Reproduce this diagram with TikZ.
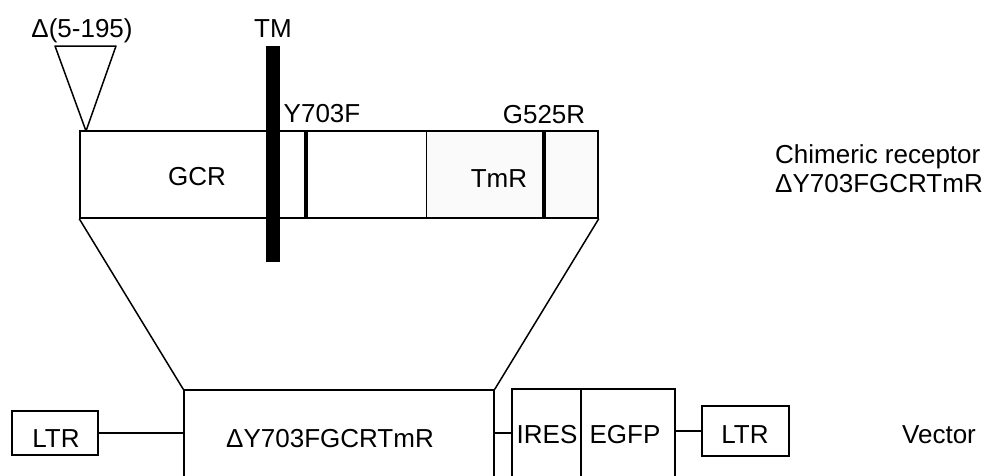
\documentclass[tikz,border=0pt]{standalone}
\usepackage{fontspec}
\setmainfont{Liberation Sans}

\begin{document}
\begin{tikzpicture}[x=1pt,y=-1pt,
    box/.style={draw, line width=1.5pt, inner sep=0pt},
    mut/.style={line width=3.5pt},
    lbl/.style={font=\fontsize{26}{30}\selectfont, inner sep=0pt, anchor=base}]
  \clip (0,0) rectangle (992,475);
  % Coordinates
  \coordinate (DL) at (55,46);
  \coordinate (DR) at (116,46);
  \coordinate (DT) at (86,131);
  \coordinate (Y) at (306,174);
  \coordinate (G) at (544,174);
  \coordinate (T) at (426,174);

  % Receptor
  \fill[gray!4] (426,131) rectangle (598,218);
  \node[box, minimum width=518pt, minimum height=87pt] (rec) at (339,174.5) {};
  \draw[line width=1pt] (T |- rec.north) -- (T |- rec.south);
  \draw[mut] (Y |- rec.north) -- (Y |- rec.south);
  \draw[line width=4.5pt] (G |- rec.north) -- (G |- rec.south);
  \node[fill, minimum width=14pt, minimum height=216pt, inner sep=0pt] (tm) at (273,154) {};
  \draw[line width=1.5pt, line join=round] (DL) -- (DR) -- (DT) -- cycle;
  \node[lbl] at (82,37) {Δ(5-195)};
  \node[lbl] at (273,37) {TM};
  \node[lbl] at (322,122) {Y703F};
  \node[lbl] at (544,123) {G525R};
  \node[lbl] at (197,185) {GCR};
  \node[lbl] at (499,187) {TmR};
  \node[lbl, anchor=base west] (cr1) at (775,163) {Chimeric receptor};
  \node[lbl, anchor=base west] (cr2) at (775,192) {ΔY703FGCRTmR};

  % Vector
  \node[box, minimum width=86pt, minimum height=44pt] (ltrL) at (55,433) {};
  \node[box, minimum width=310pt, minimum height=100pt] (ins) at (339,440) {};
  \node[box, minimum width=69pt, minimum height=101pt] (ires) at (546.5,439.5) {};
  \node[box, minimum width=94pt, minimum height=101pt] (egfp) at (628,439.5) {};
  \node[box, minimum width=87pt, minimum height=50pt] (ltrR) at (745.5,431) {};
  \node[lbl] at (56,447) {LTR};
  \node[lbl] at (330,447) {ΔY703FGCRTmR};
  \node[lbl] at (547,443) {IRES};
  \node[lbl] at (625,443) {EGFP};
  \node[lbl] at (745,443) {LTR};
  \node[lbl] at (939,443) {Vector};

  % Drawing
  \draw[line width=1.5pt] (rec.south west) -- (ins.north west);
  \draw[line width=1.5pt] (rec.south east) -- (ins.north east);
  \draw[line width=1.5pt] (ltrL.east) -- (ltrL.east -| ins.west);
  \draw[line width=1.5pt] (ins.east |- ltrL) -- (ires.west |- ltrL);
  \draw[line width=1.5pt] (ltrR.west) -- (ltrR.west -| egfp.east);
\end{tikzpicture}
\end{document}
